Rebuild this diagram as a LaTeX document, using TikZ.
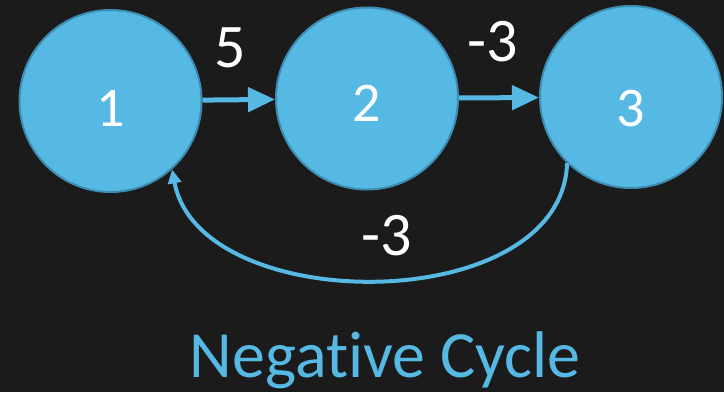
\documentclass[tikz,border=0pt]{standalone}
\usepackage{fontspec}
\setmainfont[Ligatures={NoCommon}]{Carlito}
\usetikzlibrary{arrows.meta}
\definecolor{bg}{RGB}{27,27,27}
\definecolor{cfill}{RGB}{85,185,228}
\definecolor{cborder}{RGB}{62,140,178}
\tikzset{
  circ/.style={circle, fill=cfill, draw=cborder, line width=2pt, minimum size=182pt, inner sep=0pt},
  numlab/.style={text=white, font=\fontsize{56}{56}\selectfont, inner sep=0pt},
  edge/.style={draw=cfill, line width=5pt, -{Triangle[length=27pt,width=24pt]}},
  backedge/.style={draw=cfill, line width=4pt, -{Triangle[length=14pt,width=13pt]}},
  wlabel/.style={text=white, font=\fontsize{62}{62}\selectfont, inner sep=0pt},
  title/.style={text=cfill, font=\fontsize{66}{66}\selectfont, inner sep=0pt}
}
\begin{document}
\begin{tikzpicture}[x=1pt,y=-1pt]
  \fill[bg] (0,0) rectangle (724,392);
  \useasboundingbox (0,0) rectangle (724,392);
  \node[circ, label={[numlab, yshift=-7pt]center:1}] (n1) at (110.5,101) {};
  \node[circ, label={[numlab, yshift=-5pt]center:2}] (n2) at (367,98.5) {};
  \node[circ, label={[numlab, yshift=-12pt]center:3}] (n3) at (631,97) {};
  \draw[edge] (n1) -- (n2);
  \draw[edge] (n2) -- (n3);
  \draw[backedge] (n3.-134) .. controls (562,318) and (200,318) .. (n1.-48);
  \node[wlabel] (w12) at (230,48) {5};
  \node[wlabel] (w23) at (493,42) {-3};
  \node[wlabel] (w31) at (387,236) {-3};
  \node[title, anchor=base] (t) at (385,377) {Negative Cycle};
\end{tikzpicture}
\end{document}
